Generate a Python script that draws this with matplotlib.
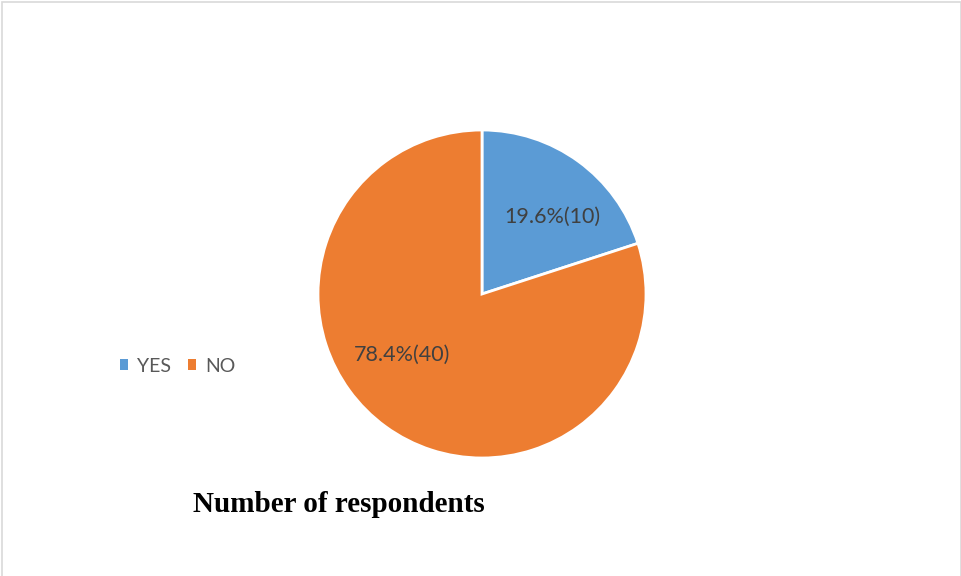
import matplotlib.pyplot as plt
from matplotlib.patches import Rectangle, Patch

labels = ["YES", "NO"]
counts = [10, 40]
label_text = ["19.6%(10)", "78.4%(40)"]
colors = ["#5B9BD5", "#ED7D31"]

W, H = 962, 576
fig = plt.figure(figsize=(W / 100, H / 100), dpi=100)

# light grey frame around the chart area (bottom edge runs off the canvas)
fig.patches.append(Rectangle((1.5 / W, -0.05), 959.5 / W, 1.05 - 2.5 / H,
                             transform=fig.transFigure, fill=False,
                             edgecolor="#D9D9D9", linewidth=1.2))

cx, cy, r = 482, 294, 164
ax = fig.add_axes([(cx - r) / W, (H - cy - r) / H, 2 * r / W, 2 * r / H])
wedges, _ = ax.pie(counts, colors=colors, startangle=90, counterclock=False,
                   radius=1, wedgeprops=dict(edgecolor="white", linewidth=2))
ax.set_xlim(-1, 1)
ax.set_ylim(-1, 1)
ax.set_aspect("equal")
ax.axis("off")

# data labels inside each slice
label_pos = [(0.43, 0.47), (-0.49, -0.37)]
for (x, y), txt in zip(label_pos, label_text):
    ax.text(x, y, txt, ha="center", va="center", fontsize=15.5,
            family="Lato", color="#404040")

handles = [Patch(facecolor=c, edgecolor="none") for c in colors]
fig.legend(handles, labels, loc="center left", bbox_to_anchor=(102 / W, 1 - 366 / H),
           ncol=2, frameon=False, handlelength=0.45, handleheight=0.45,
           handletextpad=0.45, columnspacing=0.85,
           prop=dict(family="Lato", size=14), labelcolor="#595959")

fig.text(338.5 / W, 1 - 505 / H, "Number of respondents", ha="center", va="center",
         fontsize=21, fontweight="bold", family="Liberation Serif", color="black")

fig.savefig("out.png", dpi=100)
